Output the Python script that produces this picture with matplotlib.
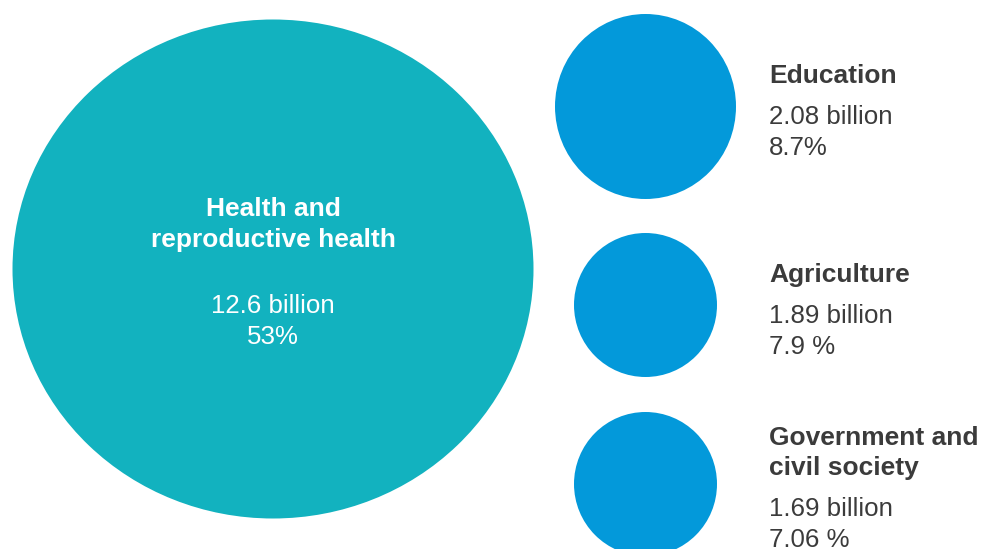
import matplotlib
matplotlib.use("Agg")
import matplotlib.pyplot as plt
from matplotlib.patches import Ellipse

plt.rcParams['font.family'] = ['Liberation Sans', 'DejaVu Sans']

# Data
sectors = ["Health and\nreproductive health", "Education", "Agriculture", "Government and\ncivil society"]
amounts = ["12.6 billion", "2.08 billion", "1.89 billion", "1.69 billion"]
shares = ["53%", "8.7%", "7.9 %", "7.06 %"]

W, H = 983, 549
fig = plt.figure(figsize=(W / 100, H / 100), dpi=100)
ax = fig.add_axes([0, 0, 1, 1])
ax.set_xlim(0, W)
ax.set_ylim(H, 0)
ax.axis('off')

teal = '#12B2BF'
blue = '#0399DA'
dark = '#3b3b3b'

# layout: (center x, center y, width, height)
circles = [(273, 269, 521, 499), (645.5, 106.5, 181, 185), (645.5, 305, 143, 144), (645.5, 484, 143, 144)]
colors = [teal, blue, blue, blue]
for (cx, cy, w, h), c in zip(circles, colors):
    ax.add_patch(Ellipse((cx, cy), w, h, facecolor=c, edgecolor='none'))

fs_b = 19
fs_r = 18.6
lh = 31

# big circle text
for k, ln in enumerate(sectors[0].split('\n')):
    ax.text(273, 216 + k * 31, ln, ha='center', va='baseline', fontsize=fs_b,
            fontweight='bold', color='white')
ax.text(273, 313, amounts[0], ha='center', va='baseline', fontsize=fs_r, color='white')
ax.text(273, 344, shares[0], ha='center', va='baseline', fontsize=fs_r, color='white')

# side labels
label_x = 769
title_base = [None, 83, 282, 445]
for i in range(1, 4):
    y0 = title_base[i]
    lines = sectors[i].split('\n')
    for k, ln in enumerate(lines):
        ax.text(label_x, y0 + k * 30, ln, ha='left', va='baseline', fontsize=fs_b,
                fontweight='bold', color=dark)
    yb = y0 + (len(lines) - 1) * 30 + 41
    ax.text(label_x, yb, amounts[i], ha='left', va='baseline', fontsize=fs_r, color=dark)
    ax.text(label_x, yb + lh, shares[i], ha='left', va='baseline', fontsize=fs_r, color=dark)

fig.savefig('out.png', dpi=100)
